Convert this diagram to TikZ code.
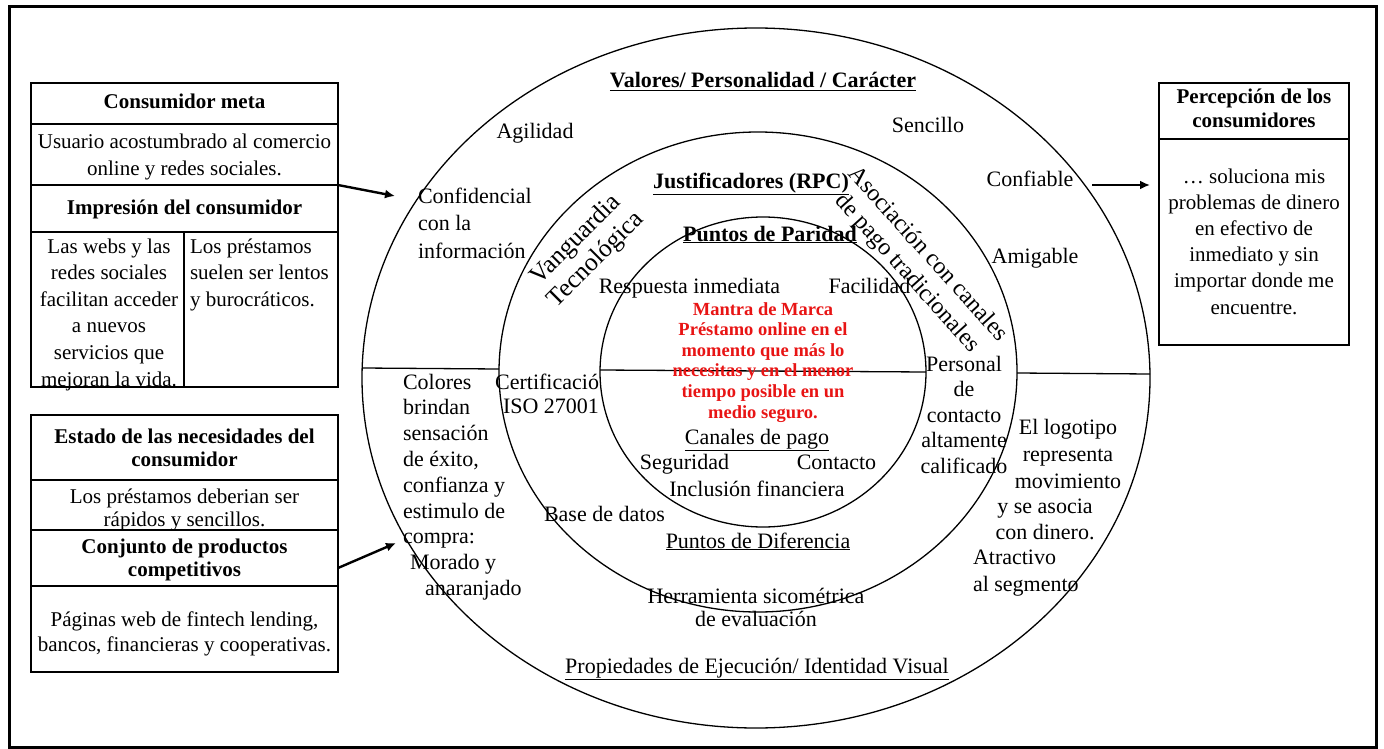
\documentclass[tikz,border=0pt]{standalone}
\usepackage{fontspec}
\setmainfont{Liberation Serif}
\usetikzlibrary{shapes.geometric,arrows.meta}
\definecolor{mantra}{RGB}{232,20,20}
\newcommand{\fl}{\rule{0pt}{18pt}}
\begin{document}
\begin{tikzpicture}[x=1pt,y=-1pt,
  ring/.style={ellipse, draw, line width=1.3pt, inner sep=0, outer sep=0},
  cell/.style={draw, line width=1.3pt, inner sep=0, outer sep=0, anchor=north west},
  txt/.style={inner sep=0, outer sep=0, anchor=north, yshift=12pt, align=center,
    execute at begin node={\rule{0pt}{18pt}}, font=\fontsize{22}{26.5}\selectfont},
  ltxt/.style={txt, anchor=north west, align=left},
  btxt/.style={txt, font=\fontsize{21}{#1}\selectfont},
  btxt/.default=26.6,
  rot/.style={inner sep=0, outer sep=0, align=center, font=\fontsize{24}{28}\selectfont},
  arr/.style={line width=2.4pt, -{Latex[length=10pt,width=9pt]}},
  sep/.style={line width=1.3pt}
]
\useasboundingbox (0,0) rectangle (1384,749);
\node[draw, line width=3pt, inner sep=0, outer sep=0, minimum width=1367pt, minimum height=741pt, anchor=north west] (frame) at (9.5,6.5) {};

% rings
\node[ring, minimum width=788pt, minimum height=700pt] (outer) at (756,378) {};
\node[ring, minimum width=518pt, minimum height=480pt] (middle) at (758,372) {};
\node[ring, minimum width=326pt, minimum height=310pt] (inner) at (763,372) {};
\draw[sep] ([yshift=10pt]outer.west) -- ([yshift=3pt]middle.west);
\draw[sep] ([yshift=2pt]inner.west) -- (inner.east);
\draw[sep] ([yshift=-1pt]middle.east) -- ([yshift=4pt]outer.east);

% left box 1
\node[cell, minimum width=307pt, minimum height=41pt] (c1) at (31,83) {};
\node[cell, minimum width=307pt, minimum height=61pt] (c2) at (31,124) {};
\node[cell, minimum width=307pt, minimum height=47pt] (c3) at (31,185) {};
\node[cell, minimum width=153pt, minimum height=155pt] (c4) at (31,232) {};
\node[cell, minimum width=154pt, minimum height=155pt] (c5) at (184,232) {};
\node[btxt] (t1) at (184.5,103) {\textbf{Consumidor meta}};
\node[btxt] (t2) at (184.5,143) {\fl Usuario acostumbrado al comercio\\online y redes sociales.};
\node[btxt] (t3) at (184.5,208) {\textbf{Impresión del consumidor}};
\node[btxt] (t4) at (109,247) {\fl Las webs y las\\redes sociales\\facilitan acceder\\a nuevos\\servicios que\\mejoran la vida.};
\node[btxt, anchor=north west, align=left] (t5) at (190,247) {\fl Los préstamos\\suelen ser lentos\\y burocráticos.};

% left box 2
\node[cell, minimum width=307pt, minimum height=65pt] (d1) at (31,415) {};
\node[cell, minimum width=307pt, minimum height=50pt] (d2) at (31,480) {};
\node[cell, minimum width=307pt, minimum height=56pt] (d3) at (31,530) {};
\node[cell, minimum width=307pt, minimum height=86pt] (d4) at (31,586) {};
\node[btxt=23.5] (u1) at (184.5,437) {\fl\textbf{Estado de las necesidades del}\\\textbf{consumidor}};
\node[btxt=23.5] (u2) at (184.5,497) {\fl Los préstamos deberian ser\\rápidos y sencillos.};
\node[btxt=23.5] (u3) at (184.5,547) {\fl\textbf{Conjunto de productos}\\\textbf{competitivos}};
\node[btxt=25] (u4) at (184.5,620) {\fl Páginas web de fintech lending,\\bancos, financieras y cooperativas.};

% right box
\node[cell, minimum width=190pt, minimum height=56pt] (e1) at (1159,83) {};
\node[cell, minimum width=190pt, minimum height=206pt] (e2) at (1159,139) {};
\node[btxt=24] (v1) at (1254,98) {\fl\textbf{Percepción de los}\\\textbf{consumidores}};
\node[btxt=26.2] (v2) at (1254,177) {\fl\ldots{} soluciona mis\\problemas de dinero\\en efectivo de\\inmediato y sin\\importar donde me\\encuentre.};

% arrows
\coordinate (a1e) at (395,196);
\draw[arr] (c2.south east) -- (a1e);
\coordinate (a2e) at (396,543);
\draw[arr] ([yshift=-10pt]d3.east) -- (a2e);
\coordinate (a3s) at (1092,185);
\draw[arr, shorten >=9pt] (a3s) -- (a3s -| e2.west);

% outer ring texts
\node[txt] (valores) at (763,82) {\underline{\textbf{Valores/ Personalidad / Carácter}}};
\node[txt] (agil) at (535,133) {Agilidad};
\node[txt] (senc) at (928,126) {Sencillo};
\node[txt] (conf) at (1030,180) {Confiable};
\node[txt] (amig) at (1035,257) {Amigable};
\node[ltxt, font=\fontsize{22}{27.5}\selectfont] (confid) at (418,197) {\fl Confidencial\\con la\\información};
\node[ltxt, font=\fontsize{22}{25.8}\selectfont] (colores) at (403,383) {\fl Colores\\brindan\\sensación\\de éxito,\\confianza y\\estimulo de\\compra:\\\hspace*{7pt}Morado y\\\hspace*{22pt}anaranjado};
\node[txt] (prop) at (757,667) {\underline{Propiedades de Ejecución/ Identidad Visual}};
\node[txt, font=\fontsize{22}{27}\selectfont] (logo) at (1068,428) {\fl El logotipo\\representa\\movimiento};
\node[txt, font=\fontsize{22}{26}\selectfont] (asocia) at (1045,507) {\fl y se asocia\\con dinero.};
\node[ltxt, font=\fontsize{22}{27}\selectfont] (atract) at (973,558) {\fl Atractivo\\al segmento};

% middle ring texts
\node[txt] (justif) at (751,182) {\underline{\textbf{Justificadores (RPC)}}};
\node[rot, rotate=45, font=\fontsize{25.5}{28}\selectfont] (vang) at (586,250) {Vanguardia\\Tecnológica};
\node[rot, rotate=-48] (asoc) at (917,264) {Asociación con canales\\de pago tradicionales};
\node[ltxt, anchor=north east, align=right, font=\fontsize{22}{24}\selectfont] (cert) at (599,383) {\fl Certificació\\ISO 27001};
\node[txt, font=\fontsize{22}{25.5}\selectfont] (pers) at (964,365) {\fl Personal\\de\\contacto\\altamente\\calificado};
\node[txt] (base) at (604.5,515) {Base de datos};
\node[txt] (difer) at (758,542) {\underline{Puntos de Diferencia}};
\node[txt, font=\fontsize{22}{23.5}\selectfont] (herr) at (756,597) {\fl Herramienta sicométrica\\de evaluación};

% inner ring texts
\node[txt] (paridad) at (770,235) {\underline{\textbf{Puntos de Paridad}}};
\node[txt] (resp) at (689.5,287) {Respuesta inmediata};
\node[txt] (facil) at (869.5,287) {Facilidad};
\node[txt, yshift=1pt, font=\fontsize{18.5}{20.6}\selectfont\bfseries, text=mantra] (mantra) at (763,310) {\fl Mantra de Marca\\Préstamo online en el\\momento que más lo\\necesitas y en el menor\\tiempo posible en un\\medio seguro.};
\node[txt] (canales) at (757,438) {\underline{Canales de pago}};
\node[txt] (segur) at (684.5,463) {Seguridad};
\node[txt] (contac) at (836.5,463) {Contacto};
\node[txt] (inclus) at (757,490) {Inclusión financiera};
\end{tikzpicture}
\end{document}
